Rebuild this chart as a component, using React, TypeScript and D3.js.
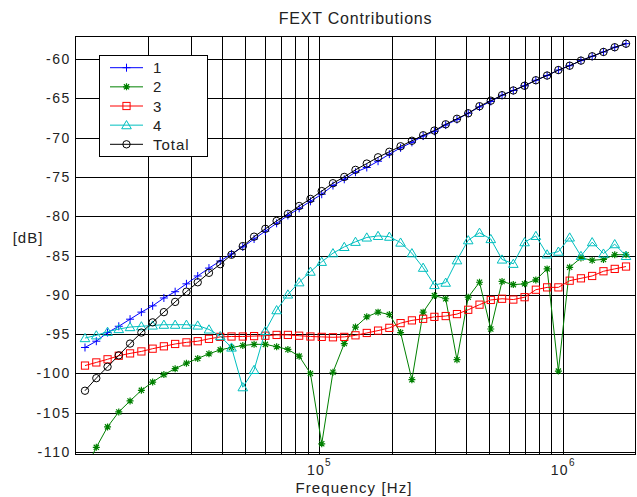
import * as d3 from "d3";

const width = 637;
const height = 497;
const marginTop = 36;
const marginBottom = 43;
const marginLeft = 75;
const marginRight = 1;
const font = "'Liberation Sans', Arial, Helvetica, sans-serif";

// frequency points [Hz]
const freqs = [
  10990, 12230, 13600, 15120, 16820, 18720, 20820, 23150, 25750, 28650,
  31870, 35440, 39430, 43850, 48780, 54270, 60360, 67140, 74680, 83080,
  92390, 102800, 114300, 127200, 141400, 157300, 175000, 194700, 216500,
  240900, 267900, 298000, 331500, 368700, 410100, 456200, 507400, 564400,
  627800, 698300, 776700, 863900, 961000, 1069000, 1189000, 1322000,
  1471000, 1636000, 1820000,
];

const series1 = [
  -96.7, -95.9, -94.8, -94.0, -93.1, -92.2, -91.4, -90.4, -89.6, -88.6,
  -87.6, -86.6, -85.7, -84.8, -83.9, -82.9, -81.9, -80.9, -79.9, -79.0,
  -78.1, -77.2, -76.1, -75.3, -74.4, -73.8, -73.0, -72.1, -71.3, -70.6,
  -69.8, -69.2, -68.4, -67.7, -66.9, -66.1, -65.4, -64.6, -64.0, -63.4,
  -62.7, -62.1, -61.4, -60.85, -60.2, -59.65, -59.1, -58.5, -58.05,
];

const series2 = [
  -112.3, -109.4, -106.8, -104.9, -103.5, -102.15, -101.1, -100.15, -99.4,
  -98.7, -98.1, -97.5, -97.0, -96.7, -96.45, -96.3, -96.3, -96.6, -96.95,
  -97.8, -100.0, -108.95, -99.85, -96.2, -94.1, -92.8, -92.2, -92.5, -94.8,
  -100.8, -92.2, -90.1, -90.5, -98.25, -90.3, -88.4, -94.35, -88.3, -88.7,
  -88.6, -88.1, -86.7, -99.7, -86.5, -85.3, -85.6, -85.5, -84.9, -84.9,
];

const series3 = [
  -99.0, -98.6, -98.2, -97.75, -97.45, -97.2, -96.85, -96.55, -96.25,
  -96.05, -95.9, -95.6, -95.35, -95.3, -95.3, -95.25, -95.2, -95.1, -95.1,
  -95.2, -95.3, -95.35, -95.4, -95.35, -95.15, -94.85, -94.55, -94.2, -93.6,
  -93.25, -93.05, -92.8, -92.7, -92.45, -91.9, -91.25, -90.65, -90.5,
  -90.6, -90.3, -89.35, -89.05, -89.05, -88.2, -87.9, -87.6, -87.0, -86.7,
  -86.4,
];

const series4 = [
  -95.5, -95.15, -94.7, -94.35, -94.1, -94.0, -93.9, -93.8, -93.8, -93.8,
  -93.9, -94.4, -95.25, -96.7, -101.75, -99.55, -94.6, -91.95, -89.95,
  -88.4, -87.05, -85.8, -84.7, -83.9, -83.25, -82.7, -82.5, -82.6, -83.35,
  -84.7, -86.55, -88.75, -88.45, -85.6, -83.05, -82.1, -82.9, -85.5,
  -86.05, -83.3, -82.5, -84.85, -84.5, -82.7, -85.05, -83.3, -84.75,
  -83.55, -85.05,
];

const seriesTotal = [
  -102.2, -100.6, -99.15, -97.7, -96.2, -94.8, -93.5, -92.2, -90.9, -89.6,
  -88.4, -87.2, -86.1, -84.9, -83.8, -82.6, -81.6, -80.6, -79.7, -78.7,
  -77.8, -76.8, -75.8, -75.0, -74.1, -73.3, -72.5, -71.8, -71.1, -70.4,
  -69.7, -69.1, -68.3, -67.6, -66.9, -66.0, -65.3, -64.6, -64.0, -63.4,
  -62.7, -62.1, -61.4, -60.85, -60.2, -59.65, -59.1, -58.5, -58.05,
];

const seriesNames = ["1", "2", "3", "4", "Total"];
const seriesColors = ["#0000ff", "#008000", "#ff0000", "#00bfbf", "#000000"];
const seriesMarkers = ["plus", "star", "square", "triangle", "circle"];
const seriesValues = [series1, series2, series3, series4, seriesTotal];

const yTicks = [-60, -65, -70, -75, -80, -85, -90, -95, -100, -105, -110];
const xTickValues = [1e5, 1e6];
const xTickExponents = ["5", "6"];

const Marker = ({ type, x, y, color }) => {
  const common = { stroke: color, strokeWidth: 1, fill: "none" };
  if (type === "plus") {
    return (
      <path d={`M${x - 4},${y}H${x + 4}M${x},${y - 4}V${y + 4}`} {...common} />
    );
  }
  if (type === "star") {
    const d = 3.5;
    const e = 2.6;
    return (
      <path
        d={`M${x - d},${y}H${x + d}M${x},${y - d}V${y + d}M${x - e},${y - e}L${x + e},${y + e}M${x - e},${y + e}L${x + e},${y - e}`}
        {...common}
        strokeWidth={1.2}
      />
    );
  }
  if (type === "square") {
    return <rect x={x - 3.6} y={y - 3.6} width={7.2} height={7.2} {...common} />;
  }
  if (type === "triangle") {
    return (
      <path
        d={`M${x},${y - 4.6}L${x + 4.8},${y + 3.6}L${x - 4.8},${y + 3.6}Z`}
        {...common}
      />
    );
  }
  return <circle cx={x} cy={y} r={3.7} {...common} />;
};

const App = () => {
  const xScale = d3
    .scaleLog()
    .domain([1e4, 2e6])
    .range([marginLeft, width - marginRight]);
  const yScale = d3
    .scaleLinear()
    .domain([-110.25, -57.07])
    .range([height - marginBottom, marginTop]);

  const x0 = marginLeft;
  const x1 = width - marginRight;
  const y0 = marginTop;
  const y1 = height - marginBottom;

  // 垂直格線：log 刻度的每個 1,2,...,9 倍
  const xGrid = xScale.ticks().filter((t) => xScale(t) > x0 + 1 && xScale(t) < x1 - 1);

  const line = d3
    .line<number>()
    .x((_, i) => xScale(freqs[i]))
    .y((d) => yScale(d));

  return (
    <svg
      width={width}
      height={height}
      viewBox={`0 0 ${width} ${height}`}
      style={{ position: "absolute", left: 0, top: 0, background: "#fff" }}
      fontFamily={font}
    >
      <defs>
        <clipPath id="plot-area">
          <rect x={x0} y={y0} width={x1 - x0} height={y1 - y0} />
        </clipPath>
      </defs>
      <rect x={0} y={0} width={width} height={height} fill="#fff" />

      <g className="grid" stroke="#000" strokeWidth={1} shapeRendering="crispEdges">
        {xGrid.map((t) => (
          <line key={t} x1={Math.round(xScale(t)) + 0.5} x2={Math.round(xScale(t)) + 0.5} y1={y0} y2={y1} />
        ))}
        {yTicks.map((t) => (
          <line key={t} x1={x0} x2={x1} y1={Math.round(yScale(t)) + 0.5} y2={Math.round(yScale(t)) + 0.5} />
        ))}
        <rect x={x0 + 0.5} y={y0 + 0.5} width={x1 - x0 - 1} height={y1 - y0} fill="none" />
      </g>

      <g className="y-axis" fontSize={14} letterSpacing={1.6} textAnchor="end" fill="#222">
        {yTicks.map((t) => (
          <text key={t} x={x0 - 4} y={yScale(t) + 5}>
            {t}
          </text>
        ))}
      </g>

      <g className="x-axis" fill="#222" textAnchor="middle">
        {xTickValues.map((t, i) => (
          <text key={t} x={xScale(t)} y={475} fontSize={14} letterSpacing={1.3}>
            10
            <tspan dy={-9} fontSize={10} letterSpacing={0}>
              {xTickExponents[i]}
            </tspan>
          </text>
        ))}
      </g>

      <text x={355.5} y={24} textAnchor="middle" fontSize={16} letterSpacing={0.8} fill="#222">
        FEXT Contributions
      </text>
      <text x={354} y={493} textAnchor="middle" fontSize={15} letterSpacing={1.1} fill="#222">
        Frequency [Hz]
      </text>
      <text x={28} y={243} textAnchor="middle" fontSize={15} letterSpacing={1} fill="#222">
        [dB]
      </text>

      <g clipPath="url(#plot-area)">
        {seriesValues.map((vals, s) => (
          <g key={seriesNames[s]}>
            <path d={line(vals)} fill="none" stroke={seriesColors[s]} strokeWidth={1} />
            {vals.map((v, i) => (
              <Marker
                key={i}
                type={seriesMarkers[s]}
                x={xScale(freqs[i])}
                y={yScale(v)}
                color={seriesColors[s]}
              />
            ))}
          </g>
        ))}
      </g>

      <g className="legend">
        <rect x={99.5} y={55.5} width={108} height={101} fill="#fff" stroke="#000" strokeWidth={1} />
        {seriesNames.map((name, i) => {
          const ly = 67.7 + i * 19.15;
          return (
            <g key={name}>
              <line x1={110} x2={143} y1={ly} y2={ly} stroke={seriesColors[i]} strokeWidth={1} />
              <Marker type={seriesMarkers[i]} x={126.5} y={ly} color={seriesColors[i]} />
              <text x={153} y={ly + 5.5} fontSize={15} letterSpacing={1} fill="#222">
                {name}
              </text>
            </g>
          );
        })}
      </g>
    </svg>
  );
};

export default App;
